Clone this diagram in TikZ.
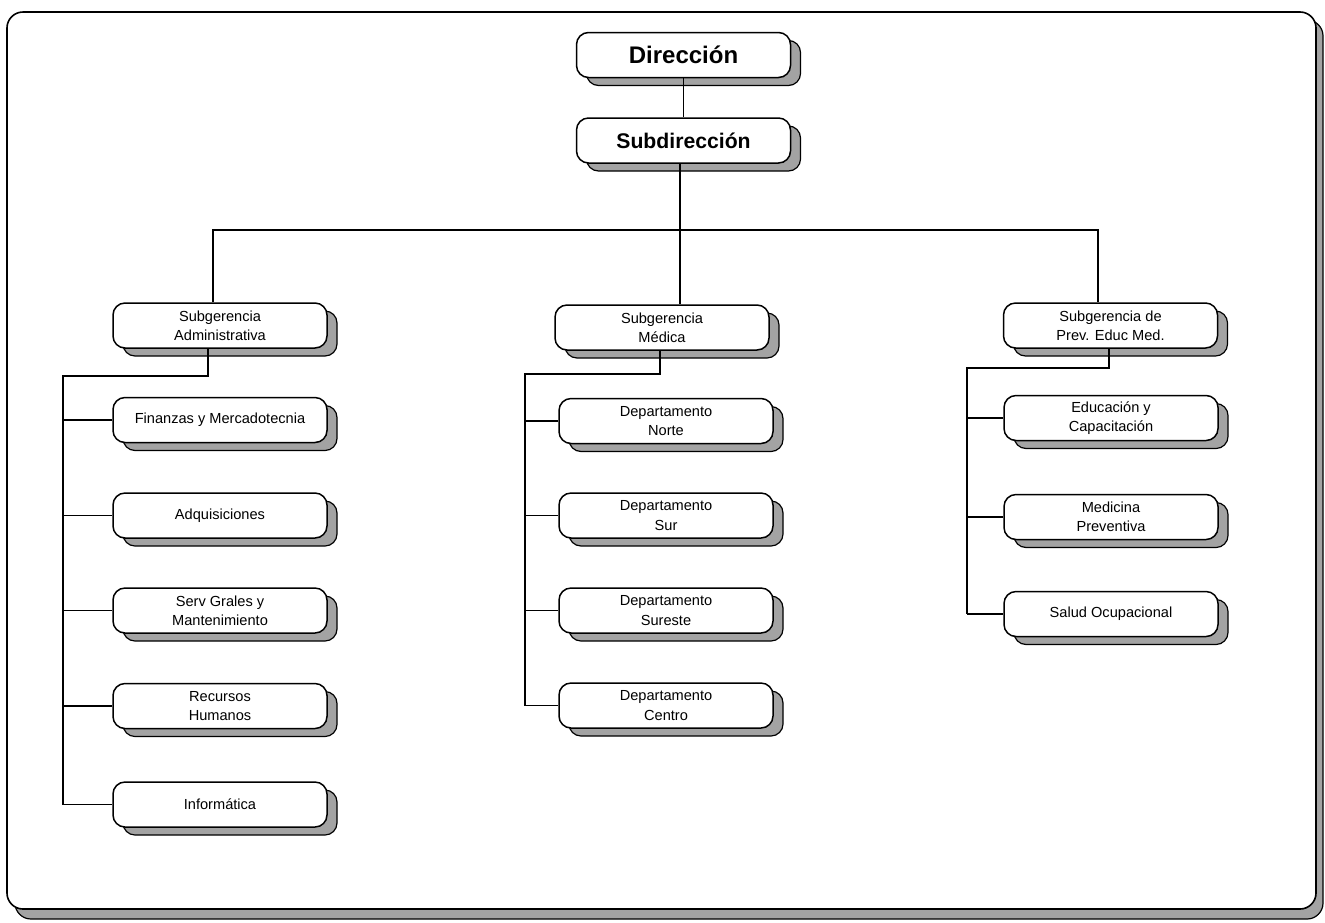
\documentclass[tikz,border=0pt]{standalone}
\usepackage{fontspec}
\setmainfont{Liberation Sans}
\usetikzlibrary{shadows}
\begin{document}
\begin{tikzpicture}[x=0.5pt,y=-0.5pt,
  box/.style={draw=black, line width=0.75pt, fill=white, rounded corners=6pt,
    minimum width=107pt, minimum height=22.5pt, inner sep=1pt, align=center,
    font=\fontsize{7.3}{9.6}\selectfont,
    drop shadow={shadow xshift=5pt, shadow yshift=-4pt, opacity=1,
      fill=black!36, draw=black, line width=0.6pt}},
  topbox/.style={box, font=\bfseries\fontsize{12}{14}\selectfont},
  subbox/.style={box, font=\bfseries\fontsize{10.6}{13}\selectfont},
  link/.style={draw=black, line width=0.7pt},
  frameshadow/.style={fill=black!36, draw=black, line width=0.6pt, rounded corners=8pt},
  framebox/.style={fill=white, draw=black, line width=0.8pt, rounded corners=8pt}]
\useasboundingbox (0,0) rectangle (1325,922);
% outer frame
\path[frameshadow] (15,20) rectangle (1323,919);
\path[framebox] (7,12) rectangle (1316,909);

% top
\node[topbox] (dir) at (683.5,55) {Dirección};
\node[subbox] (subd) at (683.5,140.5) {Subdirección};

% subgerencias
\node[box] (sgA) at (220,325.5) {Subgerencia\\Administrativa};
\node[box] (sgM) at (662,327.5) {Subgerencia\\Médica};
\node[box] (sgP) at (1110.5,325.5) {Subgerencia de\\Prev. Educ Med.};

% left column
\node[box] (fin) at (220,420) {Finanzas y Mercadotecnia};
\node[box] (adq) at (220,515.5) {Adquisiciones};
\node[box] (ser) at (220,610.5) {Serv Grales y\\Mantenimiento};
\node[box] (rec) at (220,706) {Recursos\\Humanos};
\node[box] (inf) at (220,804.5) {Informática};

% middle column
\node[box] (nor) at (666,421) {Departamento\\Norte};
\node[box] (sur) at (666,515.5) {Departamento\\Sur};
\node[box] (sue) at (666,610.5) {Departamento\\Sureste};
\node[box] (cen) at (666,705.5) {Departamento\\Centro};

% right column
\node[box] (edu) at (1111,418) {Educación y\\Capacitación};
\node[box] (med) at (1111,517) {Medicina\\Preventiva};
\node[box] (sal) at (1111,614) {Salud Ocupacional};

% junction coordinates
\coordinate (busL) at (213,230);
\coordinate (busM) at (680,230);
\coordinate (busR) at (1098,230);
\coordinate (jA) at (208,376);
\coordinate (spA) at (63,376);
\coordinate (jM) at (660,374);
\coordinate (spM) at (525,374);
\coordinate (jP) at (1109,368);
\coordinate (spP) at (967,368);

% connectors
\draw[link] (dir.south) -- (subd.north);
\draw[link] (busM |- subd.south) -- (busM |- sgM.north);
\draw[link] (busL |- sgA.north) -- (busL) -- (busR) -- (busR |- sgP.north);

\draw[link] (jA |- sgA.south) -- (jA) -- (spA) -- (spA |- inf.west);
\foreach \n in {fin,adq,ser,rec,inf} \draw[link] (spA |- \n.west) -- (\n.west);

\draw[link] (jM |- sgM.south) -- (jM) -- (spM) -- (spM |- cen.west);
\foreach \n in {nor,sur,sue,cen} \draw[link] (spM |- \n.west) -- (\n.west);

\draw[link] (jP |- sgP.south) -- (jP) -- (spP) -- (spP |- sal.west);
\foreach \n in {edu,med,sal} \draw[link] (spP |- \n.west) -- (\n.west);
\end{tikzpicture}
\end{document}
